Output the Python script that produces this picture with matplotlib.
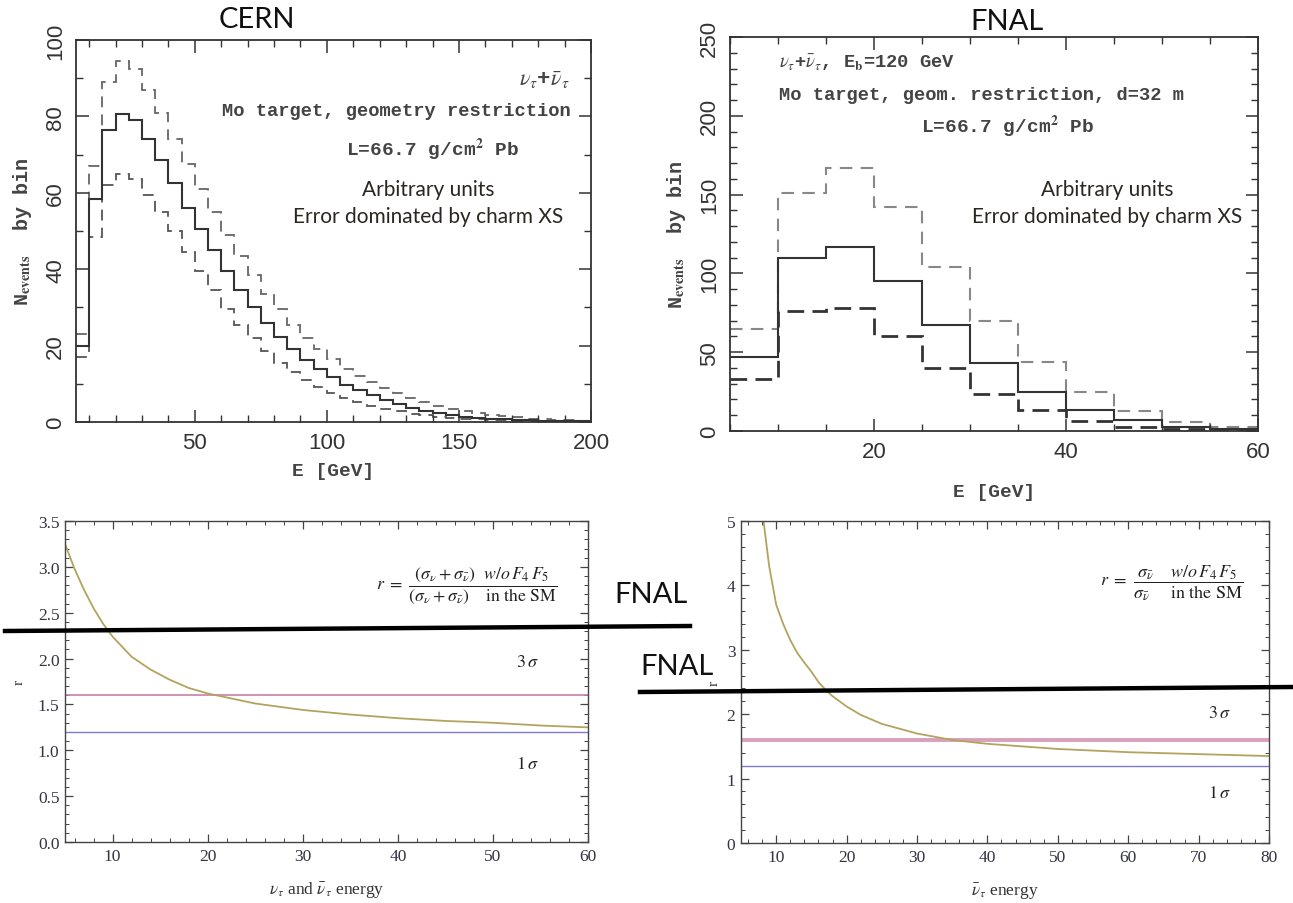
import numpy as np
import matplotlib
matplotlib.use("Agg")
import matplotlib.pyplot as plt
from matplotlib.lines import Line2D
from matplotlib.ticker import MultipleLocator

plt.rcParams['mathtext.fontset'] = 'stix'

W, H = 1293, 904

# --- CERN histogram (5 GeV bins, 5..200 GeV) ---
cern_edges = np.arange(5, 201, 5)
cern_central = [20, 58.5, 76.5, 80.5, 79, 74, 68.5, 62.5, 56, 50.5, 45, 39.5, 34.5, 30,
                25.8, 22.3, 19.1, 16.3, 13.9, 11.7, 9.7, 8.3, 7.0, 5.7, 4.6, 3.7, 2.9,
                2.3, 1.8, 1.4, 1.1, 0.9, 0.7, 0.55, 0.45, 0.35, 0.3, 0.25, 0.2]
cern_upper = [23, 67, 89, 94.5, 92.5, 87, 81, 74, 67.5, 61, 55, 49, 43.5, 38.5, 33.5,
              29.5, 25.5, 22, 19, 16.5, 14, 12, 10.5, 9, 7.5, 6.3, 5.2, 4.3, 3.5, 2.8,
              2.3, 1.8, 1.5, 1.2, 0.9, 0.7, 0.6, 0.45, 0.35]
cern_lower = [17, 48.5, 62, 65, 63.5, 59.5, 55, 50, 44.5, 39.5, 34.5, 29.5, 25.5, 22,
              18.5, 15.5, 13, 11, 9.2, 7.6, 6.3, 5.2, 4.3, 3.5, 2.8, 2.2, 1.8, 1.4, 1.1,
              0.9, 0.7, 0.55, 0.45, 0.35, 0.28, 0.22, 0.17, 0.13, 0.1]

# --- FNAL histogram (5 GeV bins, 5..60 GeV) ---
fnal_edges = np.arange(5, 61, 5)
fnal_central = [47, 110, 117, 95, 67, 43, 25, 13.5, 7, 2.8, 1.3]
fnal_upper = [65, 151, 167, 142, 104, 70, 44, 25, 13, 6, 2.8]
fnal_lower = [33, 76, 78, 60, 40, 23.5, 13.5, 6.5, 2.8, 1.3, 0.6]

# --- ratio r vs energy ---
r_nunubar_E = [5, 6, 7, 8, 9, 10, 12, 14, 16, 18, 20, 25, 30, 35, 40, 45, 50, 55, 60]
r_nunubar = [3.25, 2.98, 2.75, 2.55, 2.38, 2.24, 2.02, 1.88, 1.77, 1.68, 1.62, 1.51,
             1.44, 1.39, 1.35, 1.32, 1.30, 1.27, 1.25]
r_nubar_E = [8.2, 9, 10, 11, 12, 13, 14, 15, 16, 17, 18, 20, 22, 25, 30, 35, 40, 45,
             50, 60, 70, 80]
r_nubar = [5.0, 4.3, 3.7, 3.4, 3.15, 2.95, 2.8, 2.66, 2.5, 2.38, 2.28, 2.12, 1.99, 1.85,
           1.70, 1.60, 1.54, 1.50, 1.46, 1.41, 1.38, 1.35]
sigma_levels = [1.2, 1.6]   # 1 sigma, 3 sigma

mono = 'Liberation Mono'
sans = 'Lato'
txtc = '#444444'


def fpos(x, y):
    return x / W, 1 - y / H


fig = plt.figure(figsize=(W / 100, H / 100), dpi=100)


def top_style(ax):
    for s in ax.spines.values():
        s.set_linewidth(1.3)
        s.set_color('#333333')
    ax.tick_params(which='both', direction='in', top=True, right=True, colors='#333333',
                   labelsize=16, pad=7)
    ax.tick_params(which='major', length=9, width=1.1)
    ax.tick_params(which='minor', length=5, width=1.0)
    for lab in ax.get_xticklabels() + ax.get_yticklabels():
        lab.set_fontfamily('Liberation Sans')
        lab.set_color('#333333')
    for lab in ax.get_yticklabels():
        lab.set_rotation(90)
        lab.set_va('center')


# CERN
ax1 = fig.add_axes([76 / W, 1 - 423 / H, 515 / W, 382 / H])
ax1.stairs(cern_upper, cern_edges, baseline=None, color='#666666', lw=1.3, ls=(0, (6, 4)))
ax1.stairs(cern_lower, cern_edges, baseline=None, color='#555555', lw=1.3, ls=(0, (6, 4)))
ax1.stairs(cern_central, cern_edges, baseline=None, color='#333333', lw=1.5)
ax1.set_xlim(5, 200)
ax1.set_ylim(0, 100)
ax1.set_xticks([50, 100, 150, 200])
ax1.xaxis.set_minor_locator(MultipleLocator(10))
ax1.set_yticks(range(0, 101, 20))
ax1.yaxis.set_minor_locator(MultipleLocator(10))
top_style(ax1)
ax1.set_xlabel('E [GeV]', fontfamily=mono, fontweight='bold', fontsize=14, color=txtc, labelpad=7)
ax1.set_ylabel(r'N$_{\mathbf{events}}$  by bin', fontfamily=mono, fontweight='bold', fontsize=14.5,
               color=txtc, labelpad=8)

# FNAL
ax2 = fig.add_axes([730 / W, 1 - 432 / H, 528 / W, 394 / H])
ax2.stairs(fnal_upper, fnal_edges, baseline=None, color='#888888', lw=1.5, ls=(0, (6, 4)))
ax2.stairs(fnal_lower, fnal_edges, baseline=None, color='#333333', lw=2.0, ls=(0, (6, 3)))
ax2.stairs(fnal_central, fnal_edges, baseline=None, color='#333333', lw=1.5)
ax2.set_xlim(5, 60)
ax2.set_ylim(0, 250)
ax2.set_xticks([20, 40, 60])
ax2.xaxis.set_minor_locator(MultipleLocator(5))
ax2.set_yticks(range(0, 251, 50))
ax2.yaxis.set_minor_locator(MultipleLocator(10))
top_style(ax2)
ax2.set_xlabel('E [GeV]', fontfamily=mono, fontweight='bold', fontsize=14, color=txtc, labelpad=15)
ax2.set_ylabel(r'N$_{\mathbf{events}}$  by bin', fontfamily=mono, fontweight='bold', fontsize=14.5,
               color=txtc, labelpad=8)

# annotations of the top panels
fig.text(*fpos(257, 20), 'CERN', fontfamily=sans, fontsize=21, ha='center', va='center', color='#111111')
fig.text(*fpos(1007, 22), 'FNAL', fontfamily=sans, fontsize=21, ha='center', va='center', color='#111111')

fig.text(*fpos(570, 80), r'$\nu_{\tau}$+$\bar{\nu}_{\tau}$', fontfamily=mono, fontweight='bold', fontsize=16,
         ha='right', va='center', color=txtc)
fig.text(*fpos(571, 112), 'Mo target, geometry restriction', fontfamily=mono, fontweight='bold', fontsize=13.5,
         ha='right', va='center', color=txtc)
fig.text(*fpos(346, 150), r'L=66.7 g/cm$^{\mathbf{2}}$ Pb', fontfamily=mono, fontweight='bold', fontsize=14,
         ha='left', va='center', color=txtc)
fig.text(*fpos(428, 190), 'Arbitrary units', fontfamily=sans, fontsize=15, ha='center', va='center', color='#2a2620')
fig.text(*fpos(428, 217), 'Error dominated by charm XS', fontfamily=sans, fontsize=15, ha='center', va='center',
         color='#2a2620')

fig.text(*fpos(779, 63), r'$\nu_{\tau}$+$\bar{\nu}_{\tau}$, E$_{\mathbf{b}}$=120 GeV', fontfamily=mono,
         fontweight='bold', fontsize=13.5, ha='left', va='center', color=txtc)
fig.text(*fpos(779, 95), 'Mo target, geom. restriction, d=32 m', fontfamily=mono, fontweight='bold', fontsize=13.5,
         ha='left', va='center', color=txtc)
fig.text(*fpos(1007, 127), r'L=66.7 g/cm$^{\mathbf{2}}$ Pb', fontfamily=mono, fontweight='bold', fontsize=14,
         ha='center', va='center', color=txtc)
fig.text(*fpos(1107, 190), 'Arbitrary units', fontfamily=sans, fontsize=15, ha='center', va='center', color='#2a2620')
fig.text(*fpos(1107, 217), 'Error dominated by charm XS', fontfamily=sans, fontsize=15, ha='center', va='center',
         color='#2a2620')


def bottom_style(ax):
    for s in ax.spines.values():
        s.set_linewidth(1.0)
        s.set_color('#444444')
    ax.tick_params(which='both', direction='in', top=True, right=True, colors='#444444',
                   labelsize=12.5, labelcolor='#333344', pad=4)
    ax.tick_params(which='major', length=6, width=0.9)
    ax.tick_params(which='minor', length=3, width=0.7)
    for lab in ax.get_xticklabels() + ax.get_yticklabels():
        lab.set_fontfamily('Liberation Serif')


curve_c = '#b3a35e'
pink_c = '#c87fa2'
blue_c = '#7b7bd6'

# ratio nu + nubar
ax3 = fig.add_axes([65 / W, 1 - 843 / H, 523 / W, 321 / H])
ax3.axhline(sigma_levels[1], color=pink_c, lw=1.2)
ax3.axhline(sigma_levels[0], color=blue_c, lw=1.0)
ax3.plot(r_nunubar_E, r_nunubar, color=curve_c, lw=1.3)
ax3.set_xlim(5, 60)
ax3.set_ylim(0, 3.5)
ax3.set_xticks(range(10, 61, 10))
ax3.xaxis.set_minor_locator(MultipleLocator(2))
ax3.set_yticks(np.arange(0, 3.51, 0.5))
ax3.yaxis.set_minor_locator(MultipleLocator(0.1))
ax3.set_yticklabels([f'{v:.1f}' for v in np.arange(0, 3.51, 0.5)])
bottom_style(ax3)
ax3.text(53.6, 1.97, r'$3\,\sigma$', fontsize=13, ha='center', va='center', color='#222222')
ax3.text(53.6, 0.86, r'$1\,\sigma$', fontsize=13, ha='center', va='center', color='#222222')
ax3.text(47.3, 2.81, r'$r\ =\ \dfrac{\left(\sigma_\nu+\sigma_{\bar{\nu}}\right)\ \ w/o\,F_4\,F_5}'
         r'{\left(\sigma_\nu+\sigma_{\bar{\nu}}\right)\ \ \ \ \mathrm{in\ the\ SM}}$',
         fontsize=12.8, ha='center', va='center', color='#222222')
ax3.set_xlabel(r'$\nu_\tau$ and $\bar{\nu}_\tau$ energy', fontfamily='Liberation Serif', fontsize=12.5,
               color='#333333', labelpad=12)
ax3.set_ylabel('r', fontfamily='Liberation Serif', fontsize=11, color='#333333', labelpad=9)

# ratio nubar
ax4 = fig.add_axes([741 / W, 1 - 844 / H, 528 / W, 322 / H])
ax4.axhline(sigma_levels[1], color='#d9a0bd', lw=2.8)
ax4.axhline(sigma_levels[0], color=blue_c, lw=1.0)
ax4.plot(r_nubar_E, r_nubar, color=curve_c, lw=1.3)
ax4.set_xlim(5, 80)
ax4.set_ylim(0, 5)
ax4.set_xticks(range(10, 81, 10))
ax4.xaxis.set_minor_locator(MultipleLocator(2))
ax4.set_yticks(range(0, 6))
ax4.yaxis.set_minor_locator(MultipleLocator(0.2))
bottom_style(ax4)
ax4.text(73, 2.04, r'$3\,\sigma$', fontsize=13, ha='center', va='center', color='#222222')
ax4.text(73, 0.79, r'$1\,\sigma$', fontsize=13, ha='center', va='center', color='#222222')
ax4.text(66.1, 4.05, r'$r\ =\ \dfrac{\sigma_{\bar{\nu}}\ \ \ \ w/o\,F_4\,F_5}'
         r'{\sigma_{\bar{\nu}}\ \ \ \ \ \mathrm{in\ the\ SM}}$',
         fontsize=13, ha='center', va='center', color='#222222')
ax4.set_xlabel(r'$\bar{\nu}_\tau$ energy', fontfamily='Liberation Serif', fontsize=12.5, color='#333333',
               labelpad=12)
ax4.set_ylabel('r', fontfamily='Liberation Serif', fontsize=11, color='#333333', labelpad=4)

# overlaid marker lines and labels
fig.add_artist(Line2D([5 / W, 690 / W], [1 - 632 / H, 1 - 627 / H], color='black', lw=3.2, zorder=10))
fig.add_artist(Line2D([640 / W, 1293 / W], [1 - 693 / H, 1 - 688 / H], color='black', lw=3.2, zorder=10))
fig.text(*fpos(651, 595), 'FNAL', fontfamily=sans, fontsize=21, ha='center', va='center', color='#111111', zorder=11)
fig.text(*fpos(677, 667), 'FNAL', fontfamily=sans, fontsize=21, ha='center', va='center', color='#111111', zorder=11)

fig.savefig('out.png', dpi=100)
